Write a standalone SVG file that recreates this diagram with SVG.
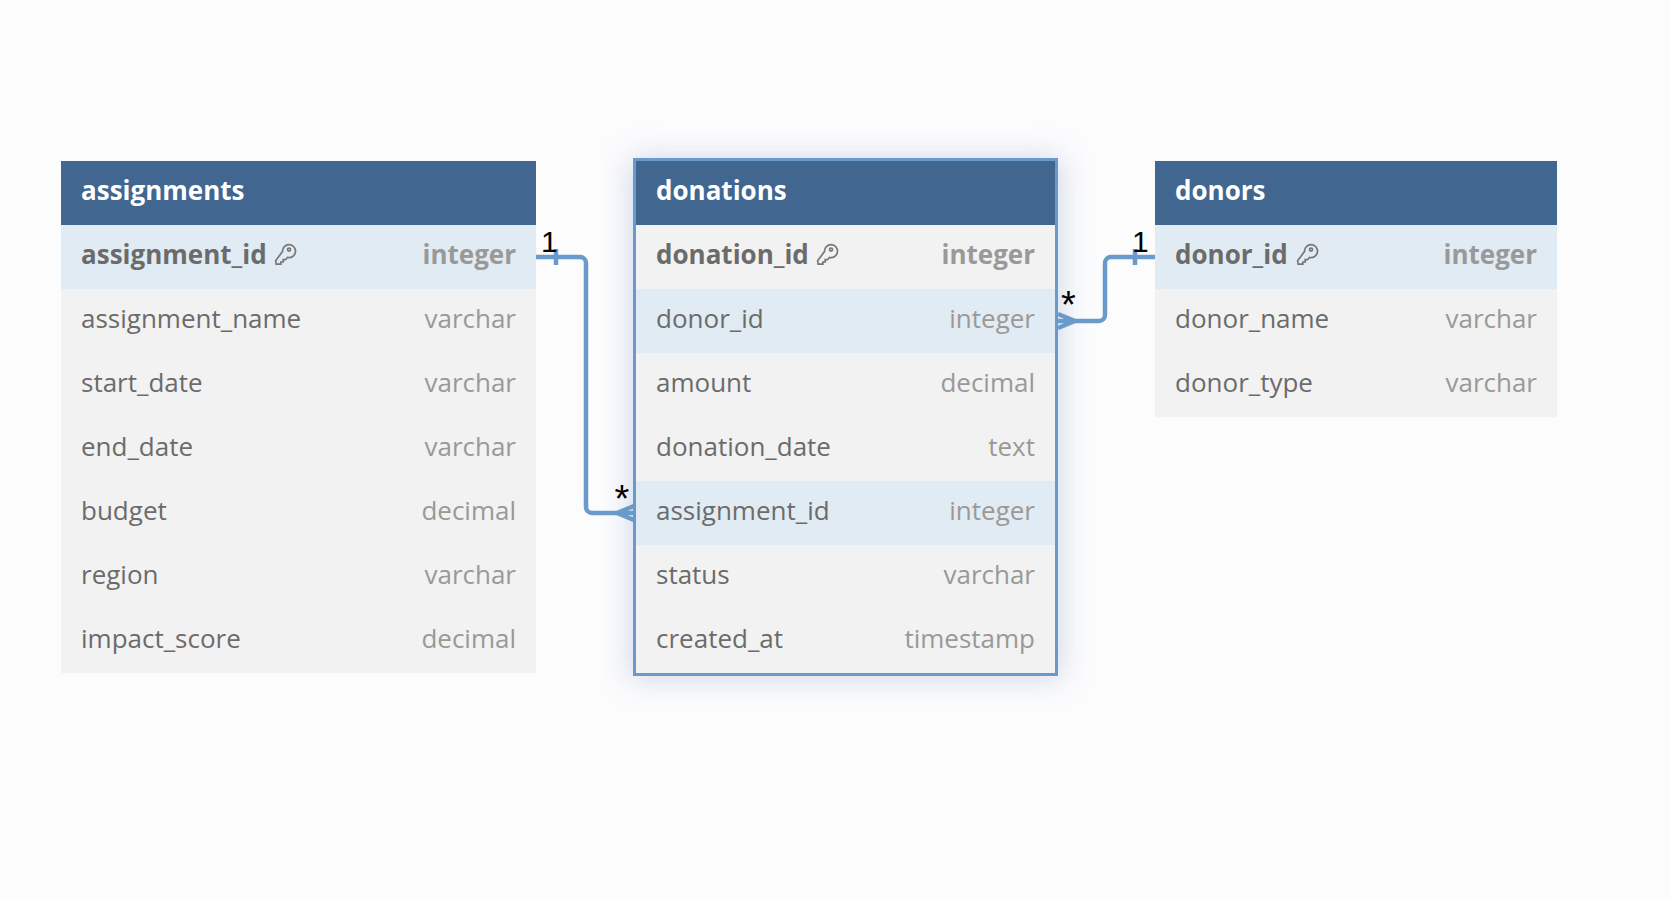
<svg xmlns="http://www.w3.org/2000/svg" width="1670" height="900" viewBox="0 0 1670 900">
<style>
text{font-family:"Open Sans","Noto Sans",sans-serif;font-size:26px}
.h{fill:#416791}.r{fill:#f2f2f2}.a{fill:#e1ebf3}
.t{font-weight:700;fill:#fff}
.n{fill:#6b6b6b}.y{fill:#999;text-anchor:end}.b{font-weight:700}
.c{fill:none;stroke:#6a9acb;stroke-width:4.5;stroke-linejoin:round}
.l{font-family:"Liberation Sans",Arial,sans-serif;font-size:30px;fill:#000}
.m{font-size:38px}
.k{fill:none;stroke:#777;stroke-width:1.7}
</style>
<defs>
<filter id="s" x="-20%" y="-20%" width="140%" height="140%"><feGaussianBlur stdDeviation="15"/></filter>
<g id="key"><path class="k" d="M9.5 8.5a6.5 6.5 0 1 1 5 6l-2 2.2h-2.3v2.3h-2.3v2.2H3.2l-.6-3.4z"/><circle class="k" cx="16" cy="6.6" r="1.5"/></g>
</defs>
<rect width="1670" height="900" fill="#fcfcfd"/>
<rect x="630" y="158" width="431" height="521" fill="#c6cfe4" opacity=".8" filter="url(#s)"/>
<g id="assignments">
<rect class="h" x="61" y="161" width="475" height="64"/>
<rect class="a" x="61" y="225" width="475" height="64"/>
<rect class="r" x="61" y="289" width="475" height="384"/>
<text class="t" x="81" y="200">assignments</text>
<text class="n b" x="81" y="264">assignment_id</text><use href="#key" x="273" y="243"/><text class="y b" x="516" y="264">integer</text>
<text class="n" x="81" y="328">assignment_name</text><text class="y" x="516" y="328">varchar</text>
<text class="n" x="81" y="392">start_date</text><text class="y" x="516" y="392">varchar</text>
<text class="n" x="81" y="456">end_date</text><text class="y" x="516" y="456">varchar</text>
<text class="n" x="81" y="520">budget</text><text class="y" x="516" y="520">decimal</text>
<text class="n" x="81" y="584">region</text><text class="y" x="516" y="584">varchar</text>
<text class="n" x="81" y="648">impact_score</text><text class="y" x="516" y="648">decimal</text>
</g>
<g id="donations">
<rect class="h" x="635" y="160" width="421" height="65"/>
<rect class="r" x="635" y="225" width="421" height="449"/>
<rect class="a" x="635" y="289" width="421" height="64"/>
<rect class="a" x="635" y="481" width="421" height="64"/>
<text class="t" x="656" y="200">donations</text>
<text class="n b" x="656" y="264">donation_id</text><use href="#key" x="815" y="243"/><text class="y b" x="1035" y="264">integer</text>
<text class="n" x="656" y="328">donor_id</text><text class="y" x="1035" y="328">integer</text>
<text class="n" x="656" y="392">amount</text><text class="y" x="1035" y="392">decimal</text>
<text class="n" x="656" y="456">donation_date</text><text class="y" x="1035" y="456">text</text>
<text class="n" x="656" y="520">assignment_id</text><text class="y" x="1035" y="520">integer</text>
<text class="n" x="656" y="584">status</text><text class="y" x="1035" y="584">varchar</text>
<text class="n" x="656" y="648">created_at</text><text class="y" x="1035" y="648">timestamp</text>
<rect x="634.5" y="159.5" width="422" height="515" fill="none" stroke="#6a9acb" stroke-width="3"/>
</g>
<g id="donors">
<rect class="h" x="1155" y="161" width="402" height="64"/>
<rect class="a" x="1155" y="225" width="402" height="64"/>
<rect class="r" x="1155" y="289" width="402" height="128"/>
<text class="t" x="1175" y="200">donors</text>
<text class="n b" x="1175" y="264">donor_id</text><use href="#key" x="1295" y="243"/><text class="y b" x="1537" y="264">integer</text>
<text class="n" x="1175" y="328">donor_name</text><text class="y" x="1537" y="328">varchar</text>
<text class="n" x="1175" y="392">donor_type</text><text class="y" x="1537" y="392">varchar</text>
</g>
<g id="connectors">
<path class="c" d="M536 257H580a6 6 0 0 1 6 6V507a6 6 0 0 0 6 6H634"/>
<path class="c" d="M556 249V265M634 506L617 513L634 520"/>
<path class="c" d="M1155 257H1111a6 6 0 0 0-6 6V315a6 6 0 0 1-6 6H1058"/>
<path class="c" d="M1135 249V265M1058 314L1075 321L1058 328"/>
<text class="l" x="541" y="252">1</text>
<text class="l" x="1132" y="252">1</text>
<text class="l m" x="614.5" y="512">*</text>
<text class="l m" x="1061" y="318">*</text>
</g>
</svg>
